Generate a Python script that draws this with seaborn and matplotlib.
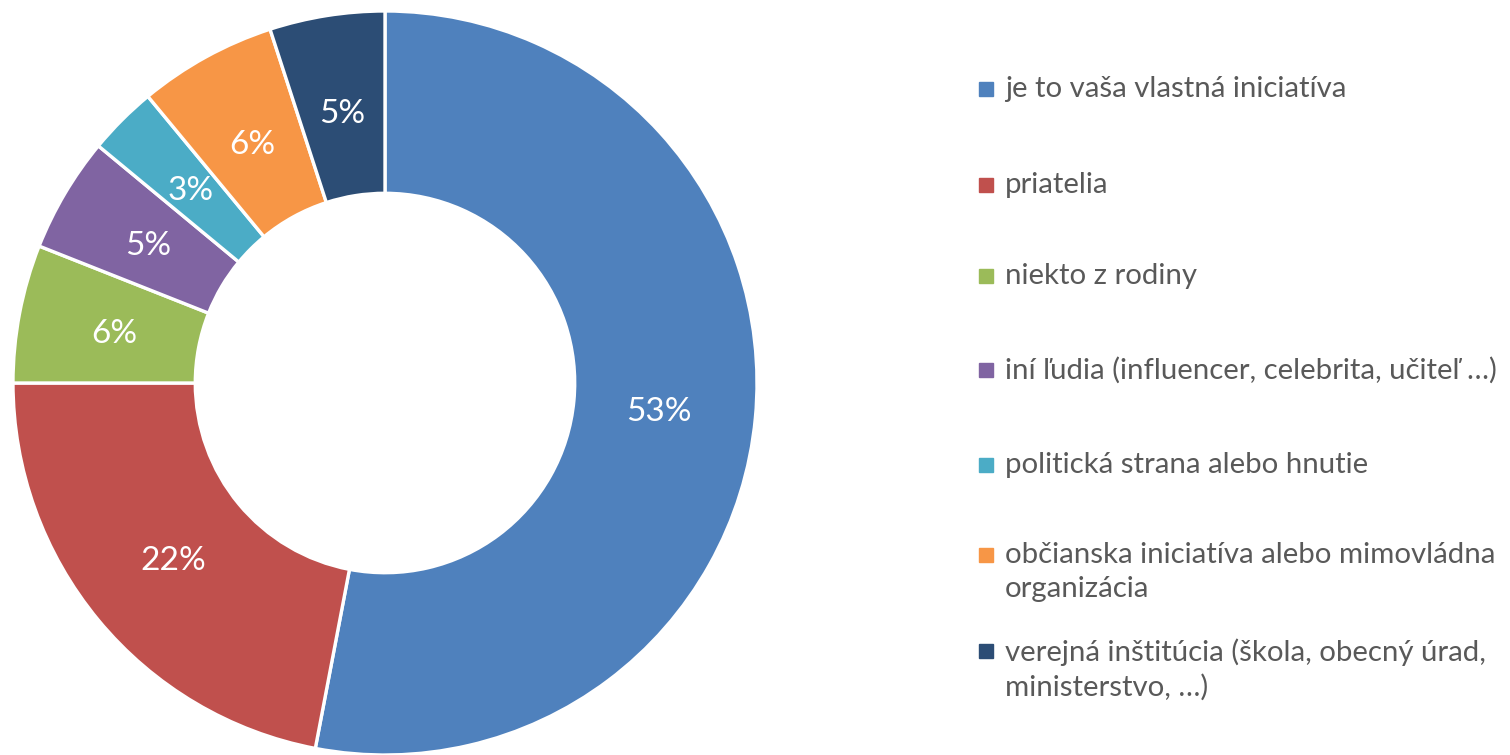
import matplotlib
matplotlib.use("Agg")
import matplotlib.pyplot as plt
import seaborn as sns

categories = [
    "je to vaša vlastná iniciatíva",
    "priatelia",
    "niekto z rodiny",
    "iní ľudia (influencer, celebrita, učiteľ …)",
    "politická strana alebo hnutie",
    "občianska iniciatíva alebo mimovládna\norganizácia",
    "verejná inštitúcia (škola, obecný úrad,\nministerstvo, …)",
]
shares = [53, 22, 6, 5, 3, 6, 5]
colors = ["#4F81BD", "#C0504D", "#9BBB59", "#8064A2", "#4BACC6", "#F79646", "#2C4D75"]

sns.set_theme(style="white")
plt.rcParams["font.family"] = ["Lato", "DejaVu Sans"]
palette = sns.color_palette(colors)

W, H = 1510, 755
fig = plt.figure(figsize=(W / 100, H / 100), dpi=100)

# donut: centre (385, 383) px, outer radius 372 px
cx, cy, r = 385, 383, 372
ax = fig.add_axes([(cx - r) / W, (H - cy - r) / H, 2 * r / W, 2 * r / H])
wedges, texts, autotexts = ax.pie(
    shares,
    colors=palette,
    startangle=90,
    counterclock=False,
    radius=1.0,
    wedgeprops=dict(width=0.49, edgecolor="white", linewidth=2.4),
    autopct=lambda p: f"{p:.0f}%",
    pctdistance=0.74,
    textprops=dict(color="white", fontsize=24),
)
for t in autotexts:
    t.set_va("center_baseline")
ax.set_xlim(-1, 1)
ax.set_ylim(-1, 1)
ax.set_aspect("equal")
ax.axis("off")

# legend entries: square marker + label, one row per category
text_color = "#595959"
marker_y = [89, 185, 276, 370, 465, 555, 651]
for label, col, y in zip(categories, palette, marker_y):
    fig.patches.append(plt.Rectangle((979 / W, (H - y - 7) / H), 14 / W, 14 / H,
                                     transform=fig.transFigure, color=col, zorder=3))
    fig.text(1005 / W, (H - y + 13) / H, label, color=text_color, fontsize=21.2,
             va="top", ha="left", linespacing=1.4,
             transform=fig.transFigure)

fig.savefig("out.png", dpi=100, facecolor="white")
